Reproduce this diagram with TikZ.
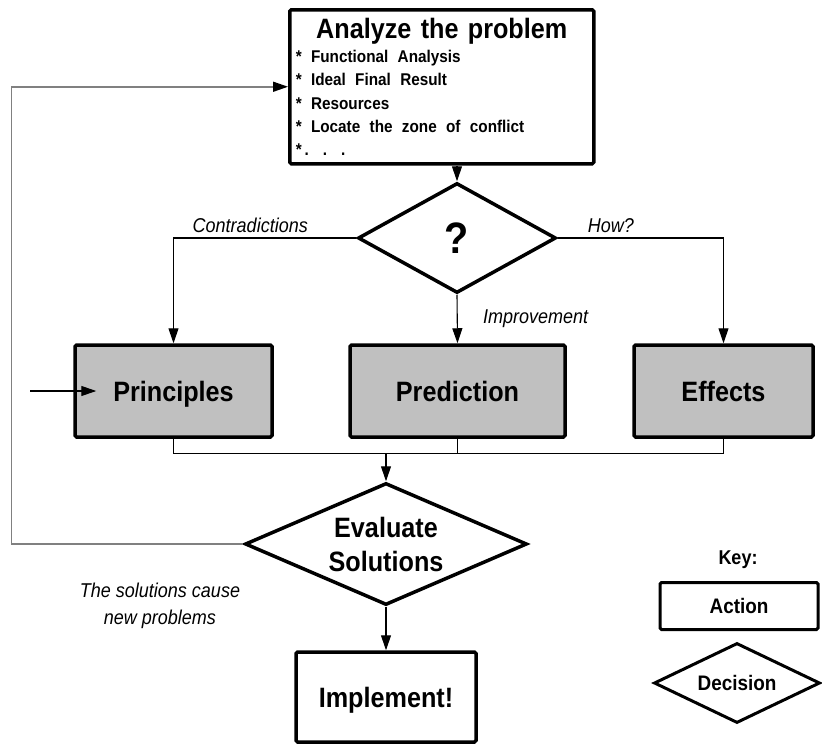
\documentclass[tikz,border=0pt]{standalone}
\usepackage{fontspec}
\setmainfont{Liberation Sans}[FakeStretch=0.9]
\usetikzlibrary{positioning, arrows.meta, shapes.geometric}
\definecolor{boxgray}{HTML}{C0C0C0}
\definecolor{loopgray}{HTML}{808080}
\tikzset{
  actionbox/.style={draw, line width=3.5pt, rounded corners=1.5pt, inner sep=0pt,
    font=\fontsize{28}{34}\selectfont\bfseries},
  oneline/.style={text height=#1, text depth=0pt},
  toolbox/.style={actionbox, oneline=20pt, fill=boxgray, minimum height=92pt},
  decisionbox/.style={draw, diamond, line width=3.5pt, inner sep=0pt, aspect=2,
    font=\fontsize{28}{34}\selectfont\bfseries},
  flowarrow/.style={line width=1.1pt, -{Triangle[length=15pt, width=10pt]}},
  branchlabel/.style={font=\fontsize{20}{27}\selectfont\itshape},
}

\begin{document}
\begin{tikzpicture}[x=1pt, y=-1pt]
  \useasboundingbox (0,0) rectangle (822,744);

  \node[actionbox, anchor=north west, align=left, text width=292pt, minimum height=154pt,
        inner xsep=6pt] (analyze) at (288,8) {%
    {\centering\fontsize{28}{30}\selectfont Analyze the problem\par}\vskip1pt
    {\fontsize{17}{23.3}\selectfont
    \mbox{* Functional Analysis}\\
    \mbox{* Ideal Final Result}\\
    \mbox{* Resources}\\
    \mbox{* Locate the zone of conflict}\\
    \mbox{*\,. . .}\par}\vskip5pt};

  \node[decisionbox, minimum width=198pt, minimum height=110pt,
        font=\fontsize{44}{44}\selectfont\bfseries] (query) at (457,238) {?};

  \node[toolbox, minimum width=197pt] (principles) at (173.5,391) {Principles};
  \node[toolbox, minimum width=215pt] (prediction) at (457.5,391) {Prediction};
  \node[toolbox, minimum width=179pt] (effects) at (723.5,391) {Effects};

  \node[decisionbox, minimum width=282pt, minimum height=122pt, align=center]
    (evaluate) at (386,544) {Evaluate\\Solutions};
  \node[actionbox, oneline=20pt, minimum width=180pt, minimum height=90pt]
    (implement) at (386,697) {Implement!};

  % key
  \node[font=\fontsize{20}{24}\selectfont\bfseries] (key) at (738,560) {Key:};
  \node[actionbox, oneline=15pt, line width=3pt, minimum width=158pt, minimum height=47pt,
        font=\fontsize{21}{24}\selectfont\bfseries] (keyaction) at (739,606) {Action};
  \node[decisionbox, line width=3pt, minimum width=166pt, minimum height=80pt,
        font=\fontsize{21}{24}\selectfont\bfseries] (keydecision) at (737,683) {Decision};

  \draw[flowarrow] (analyze.south -| query.north) -- (query.north);
  \draw[flowarrow] (query.west) -| node[branchlabel, pos=0.29, above=1pt] {Contradictions} (principles.north);
  \draw[flowarrow] (query.east) -| node[branchlabel, pos=0.16, above=1pt] {How?} (effects.north);
  \draw[flowarrow] (query.south) -- node[branchlabel, right=22pt] {Improvement} (prediction.north);

  \draw[line width=1.1pt] (principles.south) -- ++(0,15) coordinate (collect) -| (effects.south);
  \draw[line width=1.1pt] (prediction.south) -- (prediction.south |- collect);
  \draw[flowarrow] (collect -| evaluate.north) -- (evaluate.north);
  \draw[flowarrow] (evaluate.south) -- (implement.north);

  % loop back when new problems appear
  \draw[draw=loopgray, line width=1.5pt, -{Triangle[length=15pt, width=10pt, color=black]}]
    (evaluate.west) -- ++(-232,0) |- (analyze.west);
  \node[branchlabel, align=center] (causelabel) at (160,606) {The solutions cause\\ new problems};

  \coordinate (entry) at (30,391);
  \draw[flowarrow] (entry) -- ([xshift=23pt]principles.west);
\end{tikzpicture}
\end{document}
